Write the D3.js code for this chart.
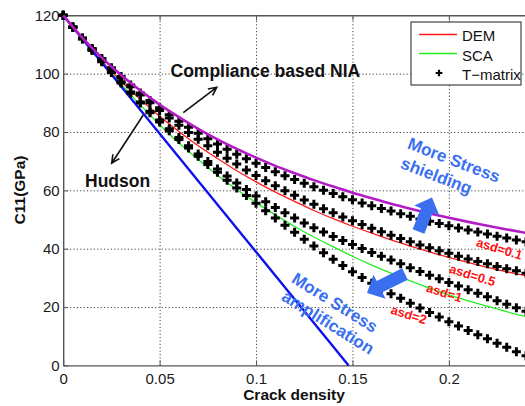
<!DOCTYPE html>
<html>
<head>
<meta charset="utf-8">
<script src="https://cdnjs.cloudflare.com/ajax/libs/d3/7.8.5/d3.min.js"></script>
<style>
body { margin: 0; background: #fff; }
svg { display: block; font-family: "Liberation Sans", Arial, sans-serif; }
</style>
</head>
<body>
<div id="chart"></div>
<script>
//size
var chart_width = 525;
var chart_height = 406;

// crack density of the T-matrix points
var density = [0, 0.005, 0.01, 0.015, 0.02, 0.025, 0.03, 0.035, 0.04, 0.045,
               0.05, 0.055, 0.06, 0.065, 0.07, 0.075, 0.08, 0.085, 0.09, 0.095,
               0.1, 0.105, 0.11, 0.115, 0.12, 0.125, 0.13, 0.135, 0.14, 0.145,
               0.15, 0.155, 0.16, 0.165, 0.17, 0.175, 0.18, 0.185, 0.19, 0.195,
               0.2, 0.205, 0.21, 0.215, 0.22, 0.225, 0.23, 0.235, 0.24];

// T-matrix C11 (GPa), one list per aspect ratio distribution
var tm_asd01 = [120, 116.0, 112.2, 108.6, 105.2, 102.0, 99.0, 96.1, 93.4, 90.8,
                88.3, 85.9, 83.7, 81.6, 79.6, 77.7, 75.9, 74.1, 72.4, 70.8,
                69.3, 67.8, 66.4, 65.0, 63.7, 62.4, 61.2, 60.0, 58.9, 57.8,
                56.8, 55.7, 54.7, 53.8, 52.9, 52.0, 51.1, 50.2, 49.4, 48.6,
                47.9, 47.1, 46.4, 45.7, 45.0, 44.3, 43.7, 43.0, 42.4];
var tm_asd05 = [120, 116.0, 112.1, 108.4, 104.9, 101.6, 98.5, 95.5, 92.7, 90.0,
                87.4, 84.8, 82.3, 79.8, 77.5, 75.3, 73.1, 71.0, 69.0, 67.0,
                65.1, 63.3, 61.6, 59.9, 58.3, 56.7, 55.2, 53.7, 52.3, 50.9,
                49.6, 48.3, 47.0, 45.8, 44.6, 43.5, 42.4, 41.3, 40.3, 39.3,
                38.4, 37.4, 36.5, 35.6, 34.8, 33.9, 33.1, 32.4, 31.6];
var tm_asd1 = [120, 115.9, 112.0, 108.1, 104.4, 100.7, 97.2, 93.7, 90.3, 87.1,
               84.1, 81.1, 78.1, 75.3, 72.5, 69.9, 67.3, 64.9, 62.5, 60.3,
               58.1, 56.1, 54.1, 52.3, 50.5, 48.8, 47.2, 45.7, 44.2, 42.8,
               41.4, 40.1, 38.7, 37.4, 36.1, 34.8, 33.5, 32.2, 30.9, 29.7,
               28.4, 27.2, 25.9, 24.7, 23.5, 22.2, 21.0, 19.8, 18.6];
var tm_asd2 = [120, 115.9, 111.9, 108.0, 104.1, 100.4, 96.8, 93.3, 89.9, 86.6,
               83.4, 80.4, 77.4, 74.5, 71.7, 68.9, 66.2, 63.5, 60.8, 58.2,
               55.6, 53.0, 50.5, 48.0, 45.6, 43.2, 40.9, 38.6, 36.4, 34.2,
               32.1, 30.1, 28.2, 26.4, 24.6, 23.0, 21.3, 19.7, 18.1, 16.6,
               15.0, 13.5, 12.0, 10.5, 9.1, 7.6, 6.2, 4.7, 3.3];

// crack density of the model curves
var line_density = [0, 0.01, 0.02, 0.03, 0.04, 0.05, 0.06, 0.07, 0.08, 0.09,
                    0.1, 0.11, 0.12, 0.13, 0.14, 0.15, 0.16, 0.17, 0.18, 0.19,
                    0.2, 0.21, 0.22, 0.23, 0.24, 0.25];
var nia = [120, 112.3, 105.5, 99.5, 94.2, 89.4, 85.1, 81.1, 77.5, 74.2,
           71.2, 68.4, 65.9, 63.5, 61.3, 59.2, 57.3, 55.4, 53.7, 52.1,
           50.6, 49.2, 47.9, 46.6, 45.4, 44.2];
var dem = [120, 111.8, 104.3, 97.4, 91.2, 85.4, 80.2, 75.3, 70.9, 66.7,
           62.9, 59.4, 56.2, 53.1, 50.3, 47.7, 45.3, 43.0, 40.9, 38.9,
           37.0, 35.3, 33.6, 32.1, 30.7, 29.3];
var sca = [120, 111.8, 104.0, 96.5, 89.3, 82.5, 76.2, 70.6, 65.2, 60.3,
           55.8, 51.6, 47.6, 44.0, 40.6, 37.4, 34.4, 31.6, 29.0, 26.5,
           24.2, 22.1, 20.2, 18.4, 16.7, 15.2];

// Hudson first order is a straight line
var hudson_density = [0, 0.148];
var hudson = [120, 0];

// ticks
var x_ticks = [0, 0.05, 0.1, 0.15, 0.2];
var x_tick_labels = ['0', '0.05', '0.1', '0.15', '0.2'];
var y_ticks = [0, 20, 40, 60, 80, 100, 120];

var asd_labels = ['asd=0.1', 'asd=0.5', 'asd=1', 'asd=2'];

var blue = '#3a6ff0';
var font = '"Liberation Sans", Arial, sans-serif';

//scales
var x = d3.scaleLinear().domain([0, 0.25]).range([63.2, 545.3]);
var y = d3.scaleLinear().domain([0, 120]).range([365.4, 15.3]);

//create svg
var svg = d3.select('#chart')
            .append('svg')
            .attr('width', chart_width)
            .attr('height', chart_height);

svg.append('rect')
   .attr('width', chart_width)
   .attr('height', chart_height)
   .attr('fill', '#fff');

// dotted grid
var grid_x = svg.append('g')
    .attr('transform', 'translate(0,' + y(0) + ')')
    .call(d3.axisBottom(x)
        .tickValues(x_ticks.filter(function(d){ return d > 0; }))
        .tickSize(-(y(0) - y(120)))
        .tickFormat(''));
var grid_y = svg.append('g')
    .attr('transform', 'translate(' + x(0) + ',0)')
    .call(d3.axisLeft(y)
        .tickValues(y_ticks.filter(function(d){ return d > 0 && d < 120; }))
        .tickSize(-(x(0.25) - x(0)))
        .tickFormat(''));
[grid_x, grid_y].forEach(function(g){
    g.select('.domain').remove();
    g.selectAll('.tick line')
     .attr('stroke', '#444')
     .attr('stroke-width', 1)
     .attr('stroke-dasharray', '1.2,2.2');
});

//axes
var x_axis = svg.append('g')
    .attr('transform', 'translate(0,' + y(0) + ')')
    .call(d3.axisBottom(x)
        .tickValues(x_ticks)
        .tickFormat(function(d, i){ return x_tick_labels[i]; })
        .tickSize(-5)
        .tickSizeOuter(0)
        .tickPadding(8));
var y_axis = svg.append('g')
    .attr('transform', 'translate(' + x(0) + ',0)')
    .call(d3.axisLeft(y)
        .tickValues(y_ticks)
        .tickSize(-5)
        .tickSizeOuter(0)
        .tickPadding(3.5));
var top_axis = svg.append('g')
    .attr('transform', 'translate(0,' + y(120) + ')')
    .call(d3.axisTop(x)
        .tickValues(x_ticks)
        .tickFormat('')
        .tickSize(-5)
        .tickSizeOuter(0));
[x_axis, y_axis, top_axis].forEach(function(g){
    g.attr('font-family', font).attr('font-size', 15);
    g.select('.domain').attr('stroke', '#555').attr('stroke-width', 1.4);
    g.selectAll('.tick line').attr('stroke', '#555');
    g.selectAll('.tick text').attr('fill', '#1a1a1a');
});

// axis titles
svg.append('text')
   .attr('x', 294)
   .attr('y', 399.5)
   .attr('text-anchor', 'middle')
   .attr('font-size', 15.5)
   .attr('font-weight', 'bold')
   .attr('fill', '#111')
   .text('Crack density');
svg.append('text')
   .attr('transform', 'translate(24.5,190) rotate(-90)')
   .attr('text-anchor', 'middle')
   .attr('font-size', 15.5)
   .attr('font-weight', 'bold')
   .attr('fill', '#111')
   .text('C11(GPa)');

//lines
var line = d3.line()
    .x(function(d){ return x(d[0]); })
    .y(function(d){ return y(d[1]); })
    .curve(d3.curveMonotoneX);

function draw_line(xs, ys, colour, width){
    svg.append('path')
       .datum(d3.zip(xs, ys))
       .attr('d', line)
       .attr('fill', 'none')
       .attr('stroke', colour)
       .attr('stroke-width', width);
}

draw_line(line_density, dem, '#ff1a1a', 1.3);
draw_line(line_density, sca, '#22ee22', 1.3);
draw_line(hudson_density, hudson, '#1010ee', 2.4);

// T-matrix crosses
var cross = d3.symbol().type(d3.symbolCross).size(45);
[tm_asd01, tm_asd05, tm_asd1, tm_asd2].forEach(function(series){
    svg.append('g')
       .selectAll('path')
       .data(d3.zip(density, series))
       .enter()
       .append('path')
       .attr('d', cross)
       .attr('transform', function(d){
           return 'translate(' + x(d[0]) + ',' + y(d[1]) + ')';
       })
       .attr('fill', '#000');
});

draw_line(line_density, nia, '#b21cc4', 2.6);

// asd labels
var asd_pos = [[475.5, 246], [448.5, 272.5], [425.5, 291.5], [390, 313.5]];
svg.selectAll('.asd')
   .data(asd_labels)
   .enter()
   .append('text')
   .attr('class', 'asd')
   .attr('transform', function(d, i){
       return 'translate(' + asd_pos[i][0] + ',' + asd_pos[i][1] + ') rotate(17)';
   })
   .attr('font-size', 12.8)
   .attr('font-weight', 'bold')
   .attr('fill', '#ff1010')
   .text(function(d){ return d; });

// black arrows
function draw_arrow(x1, y1, x2, y2){
    var a = Math.atan2(y2 - y1, x2 - x1);
    var h = 9, w = 0.45;
    svg.append('path')
       .attr('d', 'M' + x1 + ',' + y1 + 'L' + x2 + ',' + y2 +
            'M' + (x2 - h * Math.cos(a - w)) + ',' + (y2 - h * Math.sin(a - w)) +
            'L' + x2 + ',' + y2 +
            'L' + (x2 - h * Math.cos(a + w)) + ',' + (y2 - h * Math.sin(a + w)))
       .attr('fill', 'none')
       .attr('stroke', '#111')
       .attr('stroke-width', 1.6);
}
draw_arrow(183.3, 112.7, 216.7, 87.3);
draw_arrow(143.3, 115, 111.7, 163.3);

svg.append('text')
   .attr('x', 170.5)
   .attr('y', 77.3)
   .attr('font-size', 17.5)
   .attr('font-weight', 'bold')
   .attr('fill', '#111')
   .text('Compliance based NIA');
svg.append('text')
   .attr('x', 85)
   .attr('y', 187.3)
   .attr('font-size', 17.5)
   .attr('font-weight', 'bold')
   .attr('fill', '#111')
   .text('Hudson');

// blue block arrows
function block_arrow(tx, ty, px, py){
    var len = Math.hypot(px - tx, py - ty);
    var ux = (px - tx) / len, uy = (py - ty) / len;
    var nx = -uy, ny = ux;
    var sw = 6.3, hw = 13.5, hl = 14;
    var bx = px - ux * hl, by = py - uy * hl;
    var pts = [[tx + nx * sw, ty + ny * sw], [bx + nx * sw, by + ny * sw],
               [bx + nx * hw, by + ny * hw], [px, py],
               [bx - nx * hw, by - ny * hw], [bx - nx * sw, by - ny * sw],
               [tx - nx * sw, ty - ny * sw]];
    svg.append('polygon')
       .attr('points', pts.map(function(p){ return p.join(','); }).join(' '))
       .attr('fill', blue);
}
block_arrow(418.5, 231.5, 432, 197.5);
block_arrow(405, 274, 367, 293);

function blue_text(cx, cy, angle, dy, txt){
    svg.append('text')
       .attr('transform', 'translate(' + cx + ',' + cy + ') rotate(' + angle + ')')
       .attr('text-anchor', 'middle')
       .attr('dy', dy)
       .attr('font-size', 17)
       .attr('font-weight', 'bold')
       .attr('fill', blue)
       .text(txt);
}
blue_text(454, 160, 21, '0.35em', 'More Stress');
blue_text(436, 177, 21, '0.26em', 'shielding');
blue_text(335, 302.5, 32, '0.35em', 'More Stress');
blue_text(327.5, 323.3, 32, '0.28em', 'amplification');

// legend
var legend = svg.append('g');
legend.append('rect')
      .attr('x', 411).attr('y', 22)
      .attr('width', 110).attr('height', 63)
      .attr('fill', '#fff')
      .attr('stroke', '#444')
      .attr('stroke-width', 1.2);
legend.append('line')
      .attr('x1', 419).attr('x2', 457).attr('y1', 34.5).attr('y2', 34.5)
      .attr('stroke', '#ff1a1a').attr('stroke-width', 1.3);
legend.append('line')
      .attr('x1', 419).attr('x2', 457).attr('y1', 53.5).attr('y2', 53.5)
      .attr('stroke', '#22ee22').attr('stroke-width', 1.3);
legend.append('path')
      .attr('d', d3.symbol().type(d3.symbolCross).size(25))
      .attr('transform', 'translate(439,73)')
      .attr('fill', '#000');
legend.selectAll('.leg')
      .data(['DEM', 'SCA', 'T\u2212matrix'])
      .enter()
      .append('text')
      .attr('x', 462)
      .attr('y', function(d, i){ return [40.5, 60.5, 80][i]; })
      .attr('font-size', 15)
      .attr('fill', '#111')
      .text(function(d){ return d; });
</script>
</body>
</html>
